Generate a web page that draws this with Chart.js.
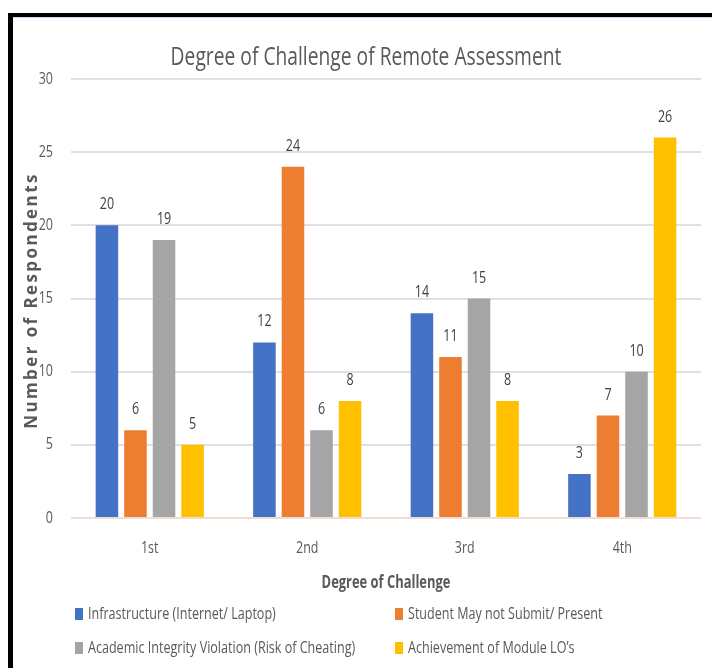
<!DOCTYPE html>
<html>
<head>
<meta charset="utf-8">
<script src="https://cdn.jsdelivr.net/npm/chart.js@4"></script>
<style>
  html, body { margin: 0; padding: 0; background: #fff; }
  #frame { position: absolute; left: 0; top: 0; width: 712px; height: 668px; overflow: hidden; }
  #edge { position: absolute; left: 8px; top: 13px; right: 0; bottom: 0;
          border-top: 4px solid #000; border-left: 5px solid #000; box-sizing: border-box; pointer-events: none; }
  #edge::after { content: ""; position: absolute; left: 0; right: 0; top: 0; height: 1px; background: #c9d8ee; }
  canvas { position: absolute; left: 0; top: 0; }
</style>
</head>
<body>
<div id="frame">
  <canvas id="c" width="712" height="668"></canvas>
  <div id="edge"></div>
</div>
<script>
const chartTitle = 'Degree of Challenge of Remote Assessment';
const categories = ['1st', '2nd', '3rd', '4th'];
const seriesNames = [
  'Infrastructure (Internet/ Laptop)',
  'Student May not Submit/ Present',
  'Academic Integrity Violation (Risk of Cheating)',
  "Achievement of Module LO\u2019s"
];
const infrastructure = [20, 12, 14, 3];
const studentMayNotSubmit = [6, 24, 11, 7];
const academicIntegrity = [19, 6, 15, 10];
const achievementLO = [5, 8, 8, 26];
const seriesColors = ['#4472C4', '#ED7D31', '#A5A5A5', '#FFC000'];
const yTicks = [0, 5, 10, 15, 20, 25, 30];
const xAxisTitle = 'Degree of Challenge';
const yAxisTitle = 'Number of Respondents';

const seriesValues = [infrastructure, studentMayNotSubmit, academicIntegrity, achievementLO];

const FAMILY = "'Open Sans', sans-serif";
const INK = '#595959';

// draws a text run squeezed horizontally, giving a narrow, Calibri-like face
function narrowText(ctx, text, x, y, o) {
  ctx.save();
  ctx.font = `${o.weight || 'normal'} ${o.size}px ${FAMILY}`;
  ctx.fillStyle = o.color || INK;
  ctx.textAlign = o.align || 'center';
  ctx.textBaseline = o.baseline || 'middle';
  ctx.translate(x, y);
  if (o.rotate) ctx.rotate(o.rotate);
  ctx.scale(o.squeeze || 1, 1);
  if (o.spacing) ctx.letterSpacing = o.spacing + 'px';
  ctx.fillText(text, 0, 0);
  ctx.restore();
}

// axis tick labels
const tickText = {
  id: 'tickText',
  afterDraw(chart) {
    const ctx = chart.ctx;
    const xs = chart.scales.x, ys = chart.scales.y;
    yTicks.forEach(v => {
      narrowText(ctx, String(v), chart.chartArea.left - 18, ys.getPixelForValue(v),
        { size: 16, squeeze: 0.78, align: 'right' });
    });
    categories.forEach((c, i) => {
      narrowText(ctx, c, xs.getPixelForValue(i), chart.chartArea.bottom + 30,
        { size: 16, squeeze: 0.78 });
    });
  }
};

// value labels above every bar
const valueLabels = {
  id: 'valueLabels',
  afterDatasetsDraw(chart) {
    const ctx = chart.ctx;
    chart.data.datasets.forEach((ds, i) => {
      chart.getDatasetMeta(i).data.forEach((bar, j) => {
        narrowText(ctx, String(ds.data[j]), bar.x, bar.y - 16,
          { size: 16, squeeze: 0.78, color: '#404040', baseline: 'alphabetic' });
      });
    });
  }
};

// heading, axis titles and the two-column key underneath
const headingAndKey = {
  id: 'headingAndKey',
  afterDraw(chart) {
    const ctx = chart.ctx;
    const area = chart.chartArea;
    const midX = (area.left + area.right) / 2;

    narrowText(ctx, chartTitle, midX - 20, 58, { size: 25, squeeze: 0.77 });
    narrowText(ctx, xAxisTitle, midX, area.bottom + 65, { size: 17, weight: 'bold', squeeze: 0.76 });
    narrowText(ctx, yAxisTitle, 32, (area.top + area.bottom) / 2 + 2,
      { size: 17, weight: 'bold', rotate: -Math.PI / 2, spacing: 2.4 });

    const colX = [area.left + 4, area.left + 324];
    const rowY = [614, 648];
    chart.data.datasets.forEach((ds, i) => {
      const x = colX[i % 2];
      const y = rowY[Math.floor(i / 2)];
      ctx.fillStyle = ds.backgroundColor;
      ctx.fillRect(x, y - 6, 8, 12);
      narrowText(ctx, ds.label, x + 13, y, { size: 16, squeeze: 0.785, align: 'left' });
    });
  }
};

new Chart(document.getElementById('c'), {
  type: 'bar',
  data: {
    labels: categories,
    datasets: seriesNames.map((name, i) => ({
      label: name,
      data: seriesValues[i],
      backgroundColor: seriesColors[i],
      borderWidth: 0,
      categoryPercentage: 0.725,
      barPercentage: 0.79
    }))
  },
  options: {
    responsive: false,
    animation: false,
    devicePixelRatio: 1,
    layout: { padding: { left: 0, right: 11, top: 79, bottom: 0 } },
    plugins: {
      legend: { display: false },
      title: { display: false },
      tooltip: { enabled: false }
    },
    scales: {
      x: {
        grid: { display: false, drawTicks: false },
        border: { display: false },
        ticks: { display: false },
        afterFit(scale) { scale.height = 150; }
      },
      y: {
        min: 0, max: 30,
        afterBuildTicks(scale) { scale.ticks = yTicks.map(v => ({ value: v })); },
        grid: {
          drawTicks: false,
          color: ctx => ctx.tick && ctx.tick.value === 0 ? '#f0dcd2' : '#e0e0e0',
          lineWidth: 2
        },
        border: { display: false },
        ticks: { display: false },
        afterFit(scale) { scale.width = 71; }
      }
    }
  },
  plugins: [valueLabels, tickText, headingAndKey]
});
</script>
</body>
</html>
